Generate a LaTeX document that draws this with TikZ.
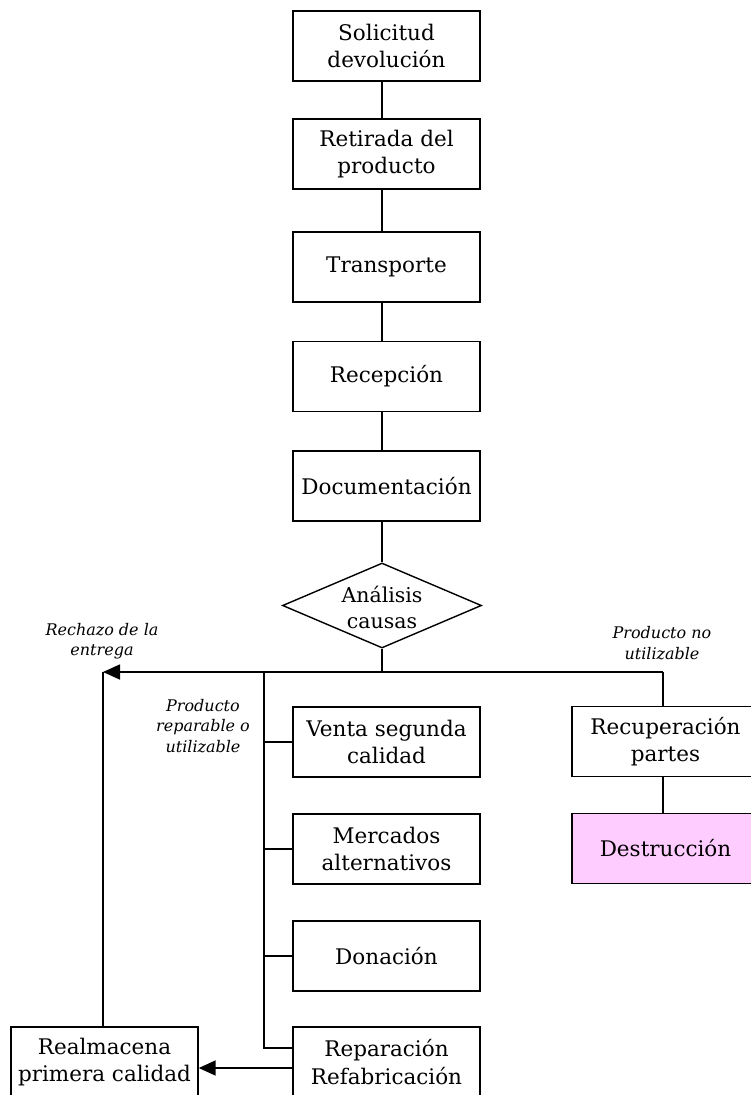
\documentclass[tikz,border=0pt]{standalone}
\usepackage{fontspec}
\setmainfont{DejaVu Serif}
\usetikzlibrary{shapes.geometric,arrows.meta}
\definecolor{destpink}{RGB}{255,204,255}
\tikzset{
  stepbox/.style={draw=black, line width=1.4pt, rectangle, minimum width=187pt,
    minimum height=70pt, inner sep=0pt, align=center,
    font=\fontsize{21.5}{27.5}\selectfont},
  decision/.style={draw=black, line width=1.4pt, diamond, aspect=2.34,
    minimum width=199pt, minimum height=85pt, inner sep=0pt},
  decisiontext/.style={align=center, font=\fontsize{20.5}{25.5}\selectfont},
  link/.style={line width=1.4pt},
  arrowlink/.style={line width=1.7pt, -{Triangle[length=17pt,width=15pt]}},
  note/.style={align=center, font=\fontsize{16}{20.5}\selectfont\itshape}
}
\begin{document}
\begin{tikzpicture}[x=1pt,y=-1pt]
\useasboundingbox (0,0) rectangle (750,1095);

% main sequence
\node[stepbox] (solic) at (386.5,46) {Solicitud\\devolución};
\node[stepbox] (retir) at (386.5,154) {Retirada del\\producto};
\node[stepbox] (transp) at (386.5,267) {Transporte};
\node[stepbox] (recep) at (386.5,376.5) {Recepción};
\node[stepbox] (docum) at (386.5,486) {Documentación};
\node[decision,
  label={[decisiontext, yshift=-2pt]center:Análisis\\causas}]
  (analis) at (382,605.5) {};

% reusable / repairable branch
\node[stepbox] (venta) at (386.5,742) {Venta segunda\\calidad};
\node[stepbox] (mercad) at (386.5,849) {Mercados\\alternativos};
\node[stepbox] (donac) at (386.5,956) {Donación};
\node[stepbox] (repar) at (386.5,1062) {Reparación\\Refabricación};
\node[stepbox] (realm) at (104.5,1062) {Realmacena\\primera calidad};

% unusable branch
\node[stepbox] (recup) at (665.5,741.5) {Recuperación\\partes};
\node[stepbox, fill=destpink] (destr) at (665.5,848.5) {Destrucción};

% branch labels
\node[note] (lrech) at (102,641) {Rechazo de la\\entrega};
\node[note] (lrepa) at (203,726) {Producto\\reparable o\\utilizable};
\node[note] (lnout) at (662,643) {Producto no\\utilizable};

% junction points
\coordinate (spine) at (382,0);
\coordinate (jL) at (103,672);
\coordinate (jV) at (264,672);
\coordinate (jR) at (663,672);

% spine connectors
\draw[link] (solic.south -| spine) -- (retir.north -| spine);
\draw[link] (retir.south -| spine) -- (transp.north -| spine);
\draw[link] (transp.south -| spine) -- (recep.north -| spine);
\draw[link] (recep.south -| spine) -- (docum.north -| spine);
\draw[link] (docum.south -| spine) -- (analis.north);
\draw[link] (analis.south) -- (analis.south |- jL);

% distribution bar
\draw[arrowlink] (jR) -- (jL);
\draw[link] (jL) -- (jL |- realm.north);
\draw[link] (jR) -- (jR |- recup.north);
\draw[link] (recup.south -| jR) -- (destr.north -| jR);

% repairable options
\draw[link] (jV) |- ([yshift=14pt]repar.west);
\draw[link] (jV |- venta.west) -- (venta.west);
\draw[link] (jV |- mercad.west) -- (mercad.west);
\draw[link] (jV |- donac.west) -- (donac.west);
\draw[arrowlink] ([yshift=-6pt]repar.west) -- ([yshift=-6pt]realm.east);
\end{tikzpicture}
\end{document}
